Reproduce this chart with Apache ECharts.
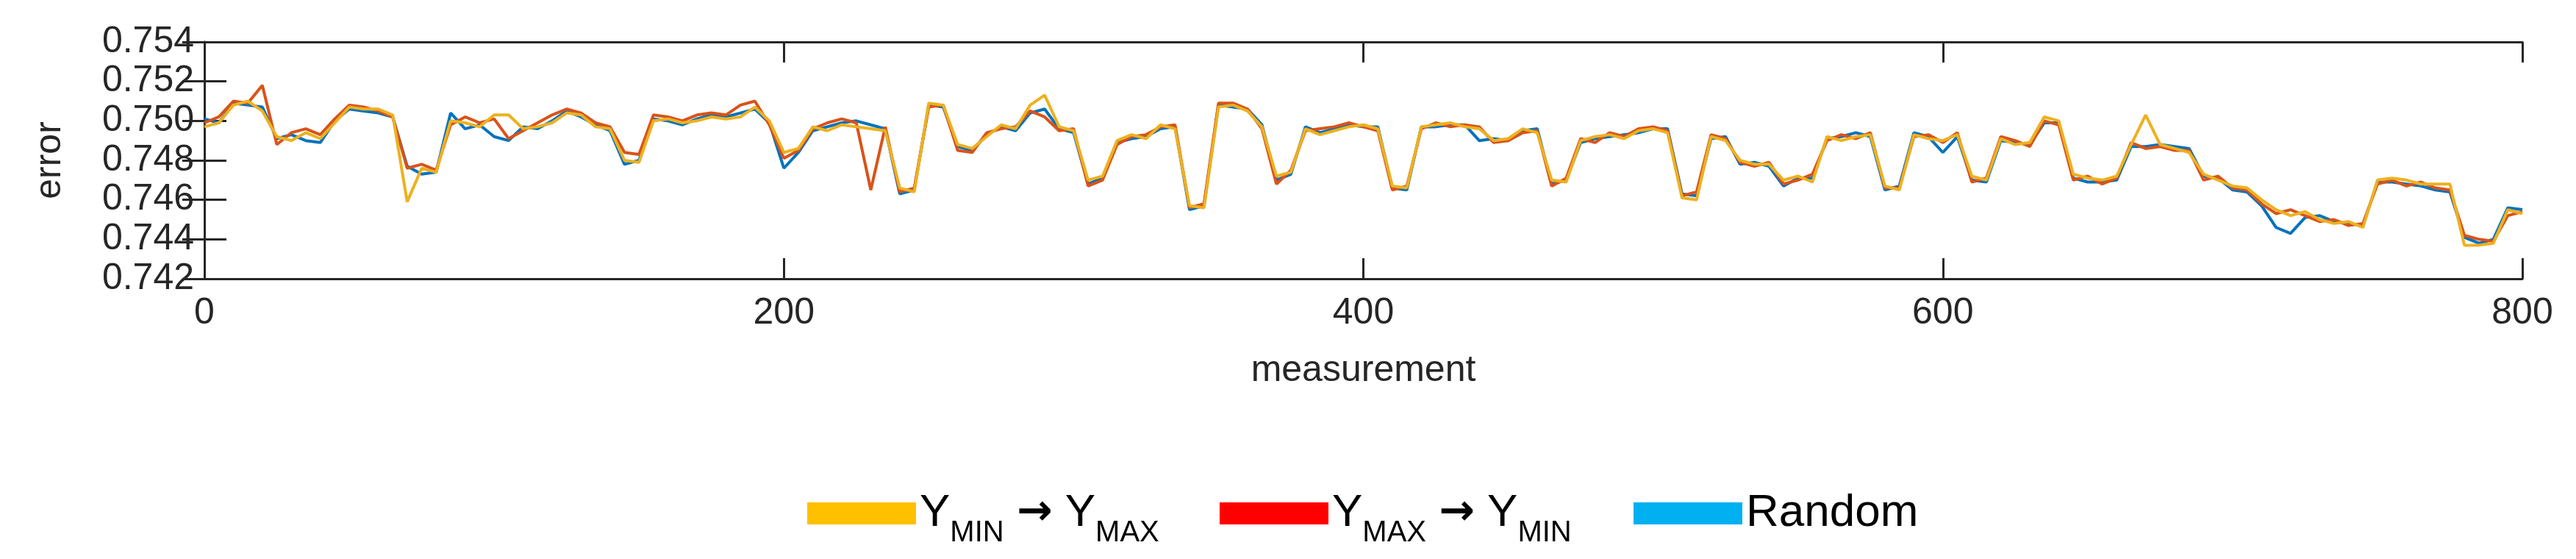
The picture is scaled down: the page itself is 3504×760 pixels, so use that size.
<!DOCTYPE html>
<html><head><meta charset="utf-8">
<script src="https://cdn.jsdelivr.net/npm/echarts@6/dist/echarts.min.js"></script>
<style>html,body{margin:0;padding:0;background:#fff}#c{width:3504px;height:760px}</style>
</head><body><div id="c"></div>
<script>
const xTicks = [0, 200, 400, 600, 800];
const yTicks = [0.742, 0.744, 0.746, 0.748, 0.750, 0.752, 0.754];
const measurement = [];
for (let m = 0; m <= 800; m += 5) measurement.push(m);

const yMinToMax = [0.7497,0.7499,0.7508,0.7510,0.7505,0.7492,0.7490,0.7494,0.7491,0.7499,0.7507,0.7506,0.7506,0.7503,0.7459,0.7476,0.7474,0.7500,0.7499,0.7497,0.7503,0.7503,0.7496,0.7497,0.7499,0.7504,0.7503,0.7497,0.7496,0.7480,0.7479,0.7500,0.7501,0.7499,0.7500,0.7502,0.7501,0.7502,0.7507,0.7500,0.7484,0.7486,0.7497,0.7495,0.7498,0.7497,0.7496,0.7495,0.7466,0.7464,0.7509,0.7508,0.7488,0.7486,0.7492,0.7498,0.7496,0.7508,0.7513,0.7497,0.7495,0.7470,0.7472,0.7490,0.7493,0.7491,0.7498,0.7496,0.7457,0.7456,0.7507,0.7508,0.7505,0.7497,0.7472,0.7474,0.7496,0.7493,0.7495,0.7497,0.7498,0.7496,0.7467,0.7466,0.7497,0.7498,0.7499,0.7497,0.7496,0.7490,0.7491,0.7496,0.7494,0.7470,0.7469,0.7490,0.7492,0.7493,0.7491,0.7495,0.7496,0.7494,0.7461,0.7460,0.7492,0.7490,0.7480,0.7478,0.7478,0.7470,0.7472,0.7469,0.7492,0.7490,0.7492,0.7493,0.7467,0.7465,0.7493,0.7491,0.7490,0.7493,0.7472,0.7470,0.7491,0.7488,0.7489,0.7502,0.7500,0.7473,0.7471,0.7470,0.7472,0.7488,0.7503,0.7488,0.7486,0.7484,0.7473,0.7470,0.7467,0.7466,0.7460,0.7455,0.7452,0.7454,0.7450,0.7448,0.7449,0.7446,0.7470,0.7471,0.7470,0.7468,0.7468,0.7468,0.7437,0.7437,0.7438,0.7455,0.7453];
const yMaxToMin = [0.7499,0.7502,0.7510,0.7509,0.7518,0.7488,0.7494,0.7496,0.7493,0.7501,0.7508,0.7507,0.7505,0.7502,0.7476,0.7478,0.7475,0.7498,0.7502,0.7499,0.7501,0.7491,0.7495,0.7499,0.7503,0.7506,0.7504,0.7499,0.7497,0.7484,0.7483,0.7503,0.7502,0.7500,0.7503,0.7504,0.7503,0.7508,0.7510,0.7498,0.7481,0.7485,0.7496,0.7499,0.7501,0.7499,0.7465,0.7497,0.7464,0.7466,0.7507,0.7508,0.7485,0.7484,0.7494,0.7496,0.7497,0.7505,0.7502,0.7495,0.7496,0.7467,0.7470,0.7488,0.7492,0.7493,0.7497,0.7498,0.7456,0.7458,0.7509,0.7509,0.7506,0.7496,0.7468,0.7475,0.7495,0.7496,0.7497,0.7499,0.7497,0.7495,0.7465,0.7467,0.7496,0.7499,0.7497,0.7498,0.7497,0.7489,0.7490,0.7494,0.7495,0.7467,0.7471,0.7491,0.7489,0.7494,0.7492,0.7496,0.7497,0.7495,0.7462,0.7464,0.7493,0.7491,0.7479,0.7477,0.7479,0.7468,0.7470,0.7473,0.7490,0.7493,0.7491,0.7494,0.7466,0.7466,0.7492,0.7493,0.7489,0.7494,0.7469,0.7471,0.7492,0.7490,0.7487,0.7500,0.7498,0.7470,0.7472,0.7468,0.7471,0.7489,0.7486,0.7487,0.7485,0.7485,0.7470,0.7472,0.7466,0.7465,0.7458,0.7453,0.7455,0.7452,0.7449,0.7450,0.7447,0.7448,0.7468,0.7470,0.7467,0.7469,0.7466,0.7465,0.7442,0.7440,0.7439,0.7452,0.7454];
const randomOrder = [0.7501,0.7499,0.7509,0.7508,0.7507,0.7491,0.7493,0.7490,0.7489,0.7500,0.7506,0.7505,0.7504,0.7502,0.7477,0.7473,0.7474,0.7504,0.7496,0.7498,0.7492,0.7490,0.7497,0.7496,0.7500,0.7505,0.7502,0.7498,0.7495,0.7478,0.7480,0.7501,0.7500,0.7498,0.7501,0.7503,0.7502,0.7504,0.7506,0.7499,0.7476,0.7484,0.7495,0.7497,0.7499,0.7500,0.7498,0.7496,0.7463,0.7465,0.7508,0.7507,0.7487,0.7485,0.7493,0.7497,0.7495,0.7504,0.7506,0.7496,0.7494,0.7468,0.7471,0.7489,0.7491,0.7492,0.7496,0.7497,0.7455,0.7457,0.7508,0.7507,0.7506,0.7498,0.7470,0.7473,0.7497,0.7494,0.7496,0.7498,0.7497,0.7497,0.7466,0.7465,0.7497,0.7497,0.7498,0.7498,0.7490,0.7491,0.7490,0.7495,0.7496,0.7468,0.7470,0.7489,0.7491,0.7492,0.7493,0.7494,0.7496,0.7496,0.7463,0.7462,0.7491,0.7492,0.7478,0.7479,0.7477,0.7467,0.7471,0.7471,0.7491,0.7492,0.7494,0.7492,0.7465,0.7467,0.7494,0.7492,0.7484,0.7492,0.7470,0.7469,0.7490,0.7489,0.7488,0.7499,0.7499,0.7471,0.7469,0.7469,0.7470,0.7487,0.7487,0.7488,0.7487,0.7486,0.7472,0.7471,0.7465,0.7464,0.7457,0.7446,0.7443,0.7451,0.7452,0.7449,0.7448,0.7447,0.7469,0.7469,0.7468,0.7467,0.7465,0.7464,0.7441,0.7438,0.7440,0.7456,0.7455];

const names = ['Ymin->Ymax', 'Ymax->Ymin', 'Random'];
const lineColors = ['#EDB120', '#D95319', '#0072BD'];
const swatchColors = ['#FFC000', '#FF0000', '#00B0F0'];
const legendLabels = ['Y{s|MIN} {a|\u2192} Y{s|MAX}', 'Y{s|MAX} {a|\u2192} Y{s|MIN}', 'Random'];

const axisCol = '#262626';
const tickFont = {fontFamily: 'Liberation Sans, Arial', fontSize: 50, color: axisCol};
const legRich = {
  s: {fontSize: 40, fontFamily: 'Liberation Sans Narrow, Liberation Sans', color: '#000', verticalAlign: 'bottom', padding: [0,0,-16,0]},
  a: {fontSize: 58, fontWeight: 'bold', fontFamily: 'DejaVu Sans', color: '#000'}
};
const legendLeft = [1093, 1654, 2217];

function mkLegend(i) {
  return {
    left: legendLeft[i], top: 662, itemWidth: 148, itemHeight: 30, icon: 'rect',
    data: [{name: names[i], itemStyle: {color: swatchColors[i]}}],
    formatter: () => legendLabels[i],
    selectedMode: false,
    textStyle: {fontSize: 62, fontFamily: 'Liberation Sans Narrow, Liberation Sans', color: '#000', rich: legRich}
  };
}
const seriesData = [yMinToMax, yMaxToMin, randomOrder];
const series = [2, 1, 0].map(i => ({
  name: names[i], type: 'line', showSymbol: false, animation: false,
  data: measurement.map((m, k) => [m, seriesData[i][k]]),
  lineStyle: {width: 4, color: lineColors[i]}, itemStyle: {color: lineColors[i]}
}));

const chart = echarts.init(document.getElementById('c'));
chart.setOption({
  backgroundColor: '#fff', animation: false,
  grid: {left: 278, right: 73, top: 57, bottom: 381},
  legend: [mkLegend(0), mkLegend(1), mkLegend(2)],
  xAxis: [
    {type: 'value', min: 0, max: 800, interval: 200, position: 'bottom',
     name: 'measurement', nameLocation: 'middle', nameGap: 100,
     nameTextStyle: {fontSize: 50, fontFamily: 'Liberation Sans, Arial', color: axisCol},
     axisLine: {show: true, lineStyle: {color: axisCol, width: 3}},
     axisTick: {show: true, inside: true, length: 28, lineStyle: {color: axisCol, width: 3}},
     axisLabel: Object.assign({margin: 22}, tickFont), splitLine: {show: false}},
    {type: 'value', min: 0, max: 800, interval: 200, position: 'top',
     axisLine: {show: true, lineStyle: {color: axisCol, width: 3}},
     axisTick: {show: true, inside: true, length: 28, lineStyle: {color: axisCol, width: 3}},
     axisLabel: {show: false}, splitLine: {show: false}}
  ],
  yAxis: [
    {type: 'value', min: 0.742, max: 0.754, interval: 0.002, position: 'left',
     name: 'error', nameLocation: 'middle', nameGap: 185,
     nameTextStyle: {fontSize: 50, fontFamily: 'Liberation Sans, Arial', color: axisCol},
     axisLine: {show: true, lineStyle: {color: axisCol, width: 3}},
     axisTick: {show: true, inside: true, length: 30, lineStyle: {color: axisCol, width: 3}},
     axisLabel: Object.assign({margin: 14, formatter: v => v.toFixed(3)}, tickFont), splitLine: {show: false}},
    {type: 'value', min: 0.742, max: 0.754, interval: 0.002, position: 'right',
     axisLine: {show: true, lineStyle: {color: axisCol, width: 3}},
     axisTick: {show: true, inside: true, length: 30, lineStyle: {color: axisCol, width: 3}},
     axisLabel: {show: false}, splitLine: {show: false}}
  ],
  series: series
});
</script></body></html>
